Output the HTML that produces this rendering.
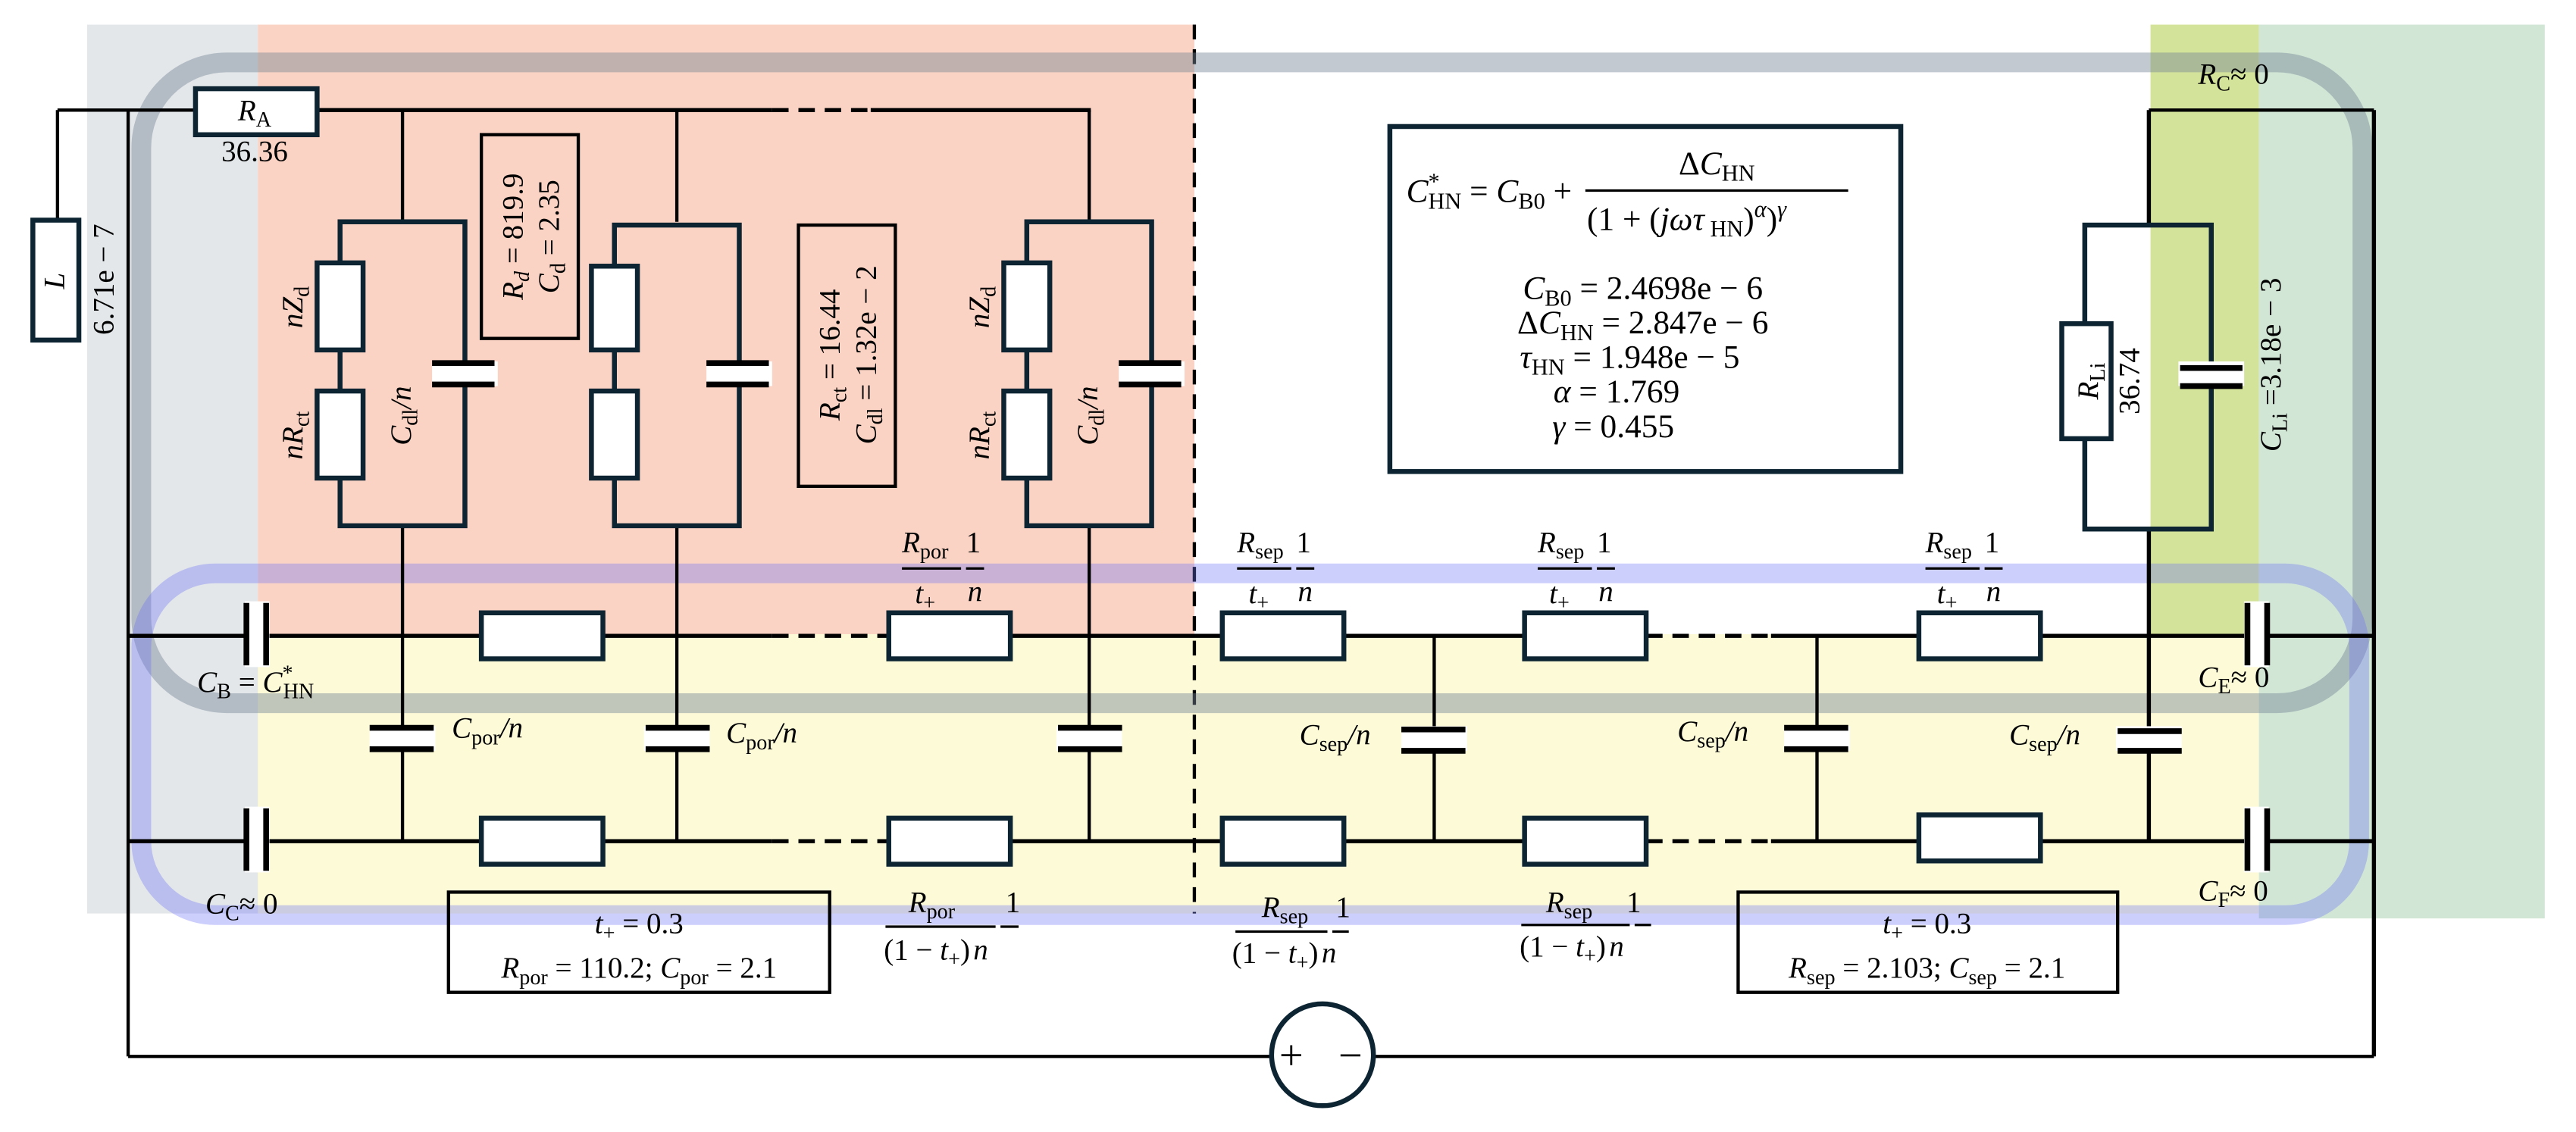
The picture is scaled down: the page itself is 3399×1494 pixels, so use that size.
<!DOCTYPE html>
<html><head><meta charset="utf-8"><style>
html,body{margin:0;padding:0;background:#fff;}
svg{display:block;}
text{font-family:"Liberation Serif",serif;fill:#000;}
.i{font-style:italic;}
</style></head><body>
<svg width="3399" height="1494" viewBox="0 0 1568 689" preserveAspectRatio="none" xmlns="http://www.w3.org/2000/svg">
<rect x="53" y="15" width="104" height="541" fill="#e3e7ea"/>
<rect x="157" y="15" width="570" height="371" fill="#fbd3c4"/>
<rect x="157" y="386" width="1218" height="170" fill="#fdfad8"/>
<rect x="1309" y="15" width="66" height="371" fill="#d3e39a"/>
<rect x="1375" y="15" width="174" height="544" fill="#d2e6d6"/>
<line x1="727" y1="15" x2="727" y2="556" stroke="#000" stroke-width="2" stroke-dasharray="9,6"/>

<rect x="86" y="38" width="1352" height="390" rx="52" fill="none" stroke="rgba(120,135,150,0.45)" stroke-width="12"/>
<rect x="86" y="349" width="1350" height="208" rx="45" fill="none" stroke="rgba(110,115,245,0.35)" stroke-width="12"/>

<g stroke="#000" stroke-width="2" fill="none">
<line x1="35" y1="67" x2="119" y2="67"/>
<line x1="193" y1="67" x2="470" y2="67" stroke-width="2.5"/>
<line x1="470" y1="67" x2="530" y2="67" stroke-width="2.5" stroke-dasharray="10,6"/>
<line x1="530" y1="67" x2="664" y2="67" stroke-width="2.5"/>
<line x1="35" y1="67" x2="35" y2="134"/>
<line x1="78" y1="67" x2="78" y2="643"/>
<line x1="1308" y1="67" x2="1445" y2="67"/>
<line x1="1445" y1="67" x2="1445" y2="643" stroke-width="2.5"/>
<line x1="1308" y1="67" x2="1308" y2="137" stroke-width="2.5"/>
<line x1="1308" y1="322" x2="1308" y2="512" stroke-width="2.5"/>
<line x1="78" y1="643" x2="1445" y2="643"/>
<line x1="245" y1="67" x2="245" y2="135"/><line x1="245" y1="320" x2="245" y2="512"/>
<line x1="412" y1="67" x2="412" y2="135"/><line x1="412" y1="320" x2="412" y2="512"/>
<line x1="663" y1="67" x2="663" y2="135"/><line x1="663" y1="320" x2="663" y2="512"/>
<line x1="873" y1="387" x2="873" y2="512"/>
<line x1="1106" y1="387" x2="1106" y2="512"/>
<line x1="78" y1="387" x2="470" y2="387" stroke-width="2.5"/>
<line x1="470" y1="387" x2="540" y2="387" stroke-width="2.5" stroke-dasharray="10,6"/>
<line x1="540" y1="387" x2="1002" y2="387" stroke-width="2.5"/>
<line x1="1002" y1="387" x2="1078" y2="387" stroke-width="2.5" stroke-dasharray="10,6"/>
<line x1="1078" y1="387" x2="1445" y2="387" stroke-width="2.5"/>
<line x1="78" y1="512" x2="470" y2="512" stroke-width="2.5"/>
<line x1="470" y1="512" x2="540" y2="512" stroke-width="2.5" stroke-dasharray="10,6"/>
<line x1="540" y1="512" x2="1002" y2="512" stroke-width="2.5"/>
<line x1="1002" y1="512" x2="1078" y2="512" stroke-width="2.5" stroke-dasharray="10,6"/>
<line x1="1078" y1="512" x2="1445" y2="512" stroke-width="2.5"/>
</g>

<g stroke="#0d2533" stroke-width="3" fill="none">
<rect x="207" y="135" width="76" height="185"/>
<rect x="374" y="137" width="76" height="183"/>
<rect x="625" y="135" width="76" height="185"/>
<rect x="1269" y="137" width="77" height="185"/>
</g>
<g stroke="#0d2533" stroke-width="3" fill="#fff">
<rect x="119" y="54" width="74" height="28"/>
<rect x="20" y="134" width="28" height="73"/>
<rect x="193" y="160" width="28" height="53"/><rect x="193" y="238" width="28" height="53"/>
<rect x="360" y="162" width="28" height="51"/><rect x="360" y="238" width="28" height="53"/>
<rect x="611" y="160" width="28" height="53"/><rect x="611" y="238" width="28" height="53"/>
<rect x="1255" y="197" width="30" height="70"/>
<rect x="293" y="373" width="74" height="28"/><rect x="541" y="373" width="74" height="28"/>
<rect x="744" y="373" width="74" height="28"/><rect x="928" y="373" width="74" height="28"/><rect x="1168" y="373" width="74" height="28"/>
<rect x="293" y="498" width="74" height="28"/><rect x="541" y="498" width="74" height="28"/>
<rect x="744" y="498" width="74" height="28"/><rect x="928" y="498" width="74" height="28"/><rect x="1168" y="496" width="74" height="28"/>
</g>

<g fill="#fff">
<rect x="263" y="220" width="40" height="15"/><rect x="430" y="220" width="40" height="15"/><rect x="681" y="220" width="40" height="15"/><rect x="1326" y="220" width="40" height="15"/>
<rect x="225" y="442" width="40" height="15"/><rect x="392" y="442" width="40" height="15"/><rect x="643" y="442" width="40" height="15"/>
<rect x="853" y="442" width="40" height="15"/><rect x="1086" y="442" width="40" height="15"/><rect x="1288" y="442" width="40" height="15"/>
<rect x="149" y="366" width="15" height="40"/><rect x="149" y="491" width="15" height="40"/>
<rect x="1366" y="366" width="15" height="40"/><rect x="1366" y="491" width="15" height="40"/>
</g>
<g stroke="#000" stroke-width="3.5">
<line x1="263" y1="221" x2="301" y2="221"/><line x1="263" y1="234" x2="301" y2="234"/>
<line x1="430" y1="221" x2="468" y2="221"/><line x1="430" y1="234" x2="468" y2="234"/>
<line x1="681" y1="221" x2="719" y2="221"/><line x1="681" y1="234" x2="719" y2="234"/>
<line x1="1327" y1="224" x2="1365" y2="224"/><line x1="1327" y1="235" x2="1365" y2="235"/>
<line x1="225" y1="443" x2="264" y2="443"/><line x1="225" y1="456" x2="264" y2="456"/>
<line x1="393" y1="443" x2="432" y2="443"/><line x1="393" y1="456" x2="432" y2="456"/>
<line x1="644" y1="443" x2="683" y2="443"/><line x1="644" y1="456" x2="683" y2="456"/>
<line x1="853" y1="444" x2="892" y2="444"/><line x1="853" y1="457" x2="892" y2="457"/>
<line x1="1086" y1="443" x2="1125" y2="443"/><line x1="1086" y1="456" x2="1125" y2="456"/>
<line x1="1289" y1="445" x2="1328" y2="445"/><line x1="1289" y1="457" x2="1328" y2="457"/>
<line x1="150" y1="367" x2="150" y2="405"/><line x1="162" y1="367" x2="162" y2="405"/>
<line x1="150" y1="492" x2="150" y2="530"/><line x1="162" y1="492" x2="162" y2="530"/>
<line x1="1368" y1="367" x2="1368" y2="405"/><line x1="1380" y1="367" x2="1380" y2="405"/>
<line x1="1368" y1="492" x2="1368" y2="530"/><line x1="1380" y1="492" x2="1380" y2="530"/>
</g>

<g stroke="#000" stroke-width="2" fill="none">
<rect x="293" y="82" width="59" height="124"/>
<rect x="486" y="137" width="59" height="159"/>
<rect x="273" y="543" width="232" height="61"/>
<rect x="1058" y="543" width="231" height="61"/>
</g>
<rect x="846" y="77" width="311" height="210" fill="#fff" stroke="#0d2533" stroke-width="3"/>

<circle cx="805" cy="642" r="31" fill="#fff" stroke="#0d2533" stroke-width="3"/>
<text x="786" y="651" font-size="26" text-anchor="middle">+</text>
<text x="822" y="651" font-size="26" text-anchor="middle">−</text>

<g font-size="18">
<text x="155" y="73" text-anchor="middle"><tspan class="i">R</tspan><tspan font-size="13" dy="4">A</tspan></text>
<text x="155" y="98" text-anchor="middle">36.36</text>
<text transform="translate(39,171) rotate(-90)" text-anchor="middle" class="i">L</text>
<text transform="translate(69,170) rotate(-90)" text-anchor="middle">6.71e − 7</text>

<text transform="translate(184,187) rotate(-90)" text-anchor="middle"><tspan class="i">nZ</tspan><tspan font-size="13" dy="4">d</tspan></text>
<text transform="translate(184,265) rotate(-90)" text-anchor="middle"><tspan class="i">nR</tspan><tspan font-size="13" dy="4">ct</tspan></text>
<text transform="translate(250,253) rotate(-90)" text-anchor="middle"><tspan class="i">C</tspan><tspan font-size="13" dy="4">dl</tspan><tspan dy="-4" class="i">/n</tspan></text>
<text transform="translate(602,187) rotate(-90)" text-anchor="middle"><tspan class="i">nZ</tspan><tspan font-size="13" dy="4">d</tspan></text>
<text transform="translate(602,265) rotate(-90)" text-anchor="middle"><tspan class="i">nR</tspan><tspan font-size="13" dy="4">ct</tspan></text>
<text transform="translate(668,253) rotate(-90)" text-anchor="middle"><tspan class="i">C</tspan><tspan font-size="13" dy="4">dl</tspan><tspan dy="-4" class="i">/n</tspan></text>

<text transform="translate(318,144) rotate(-90)" text-anchor="middle"><tspan class="i">R</tspan><tspan class="i" font-size="13" dy="4">d</tspan><tspan dy="-4"> = 819.9</tspan></text>
<text transform="translate(340,144) rotate(-90)" text-anchor="middle"><tspan class="i">C</tspan><tspan font-size="13" dy="4">d</tspan><tspan dy="-4"> = 2.35</tspan></text>
<text transform="translate(511,216) rotate(-90)" text-anchor="middle"><tspan class="i">R</tspan><tspan font-size="13" dy="4">ct</tspan><tspan dy="-4"> = 16.44</tspan></text>
<text transform="translate(533,216) rotate(-90)" text-anchor="middle"><tspan class="i">C</tspan><tspan font-size="13" dy="4">dl</tspan><tspan dy="-4"> = 1.32e − 2</tspan></text>

<text transform="translate(1277,232) rotate(-90)" text-anchor="middle"><tspan class="i">R</tspan><tspan font-size="13" dy="4">Li</tspan></text>
<text transform="translate(1302,232) rotate(-90)" text-anchor="middle">36.74</text>
<text transform="translate(1388,222) rotate(-90)" text-anchor="middle"><tspan class="i">C</tspan><tspan font-size="13" dy="4">Li</tspan><tspan dy="-4"> =3.18e − 3</tspan></text>
<text x="1338" y="51"><tspan class="i">R</tspan><tspan font-size="13" dy="4">C</tspan><tspan dy="-4">≈ 0</tspan></text>
<text x="1338" y="418"><tspan class="i">C</tspan><tspan font-size="13" dy="4">E</tspan><tspan dy="-4">≈ 0</tspan></text>
<text x="1338" y="548"><tspan class="i">C</tspan><tspan font-size="13" dy="4">F</tspan><tspan dy="-4">≈ 0</tspan></text>
<text x="120" y="421"><tspan class="i">C</tspan><tspan font-size="13" dy="4">B</tspan><tspan dy="-4"> = </tspan><tspan class="i">C</tspan><tspan font-size="13" dy="-7">*</tspan><tspan font-size="13" dx="-6" dy="11">HN</tspan></text>
<text x="125" y="556"><tspan class="i">C</tspan><tspan font-size="13" dy="4">C</tspan><tspan dy="-4">≈ 0</tspan></text>

<text x="275" y="449"><tspan class="i">C</tspan><tspan font-size="13" dy="4">por</tspan><tspan dy="-4" class="i">/n</tspan></text>
<text x="442" y="452"><tspan class="i">C</tspan><tspan font-size="13" dy="4">por</tspan><tspan dy="-4" class="i">/n</tspan></text>
<text x="791" y="453"><tspan class="i">C</tspan><tspan font-size="13" dy="4">sep</tspan><tspan dy="-4" class="i">/n</tspan></text>
<text x="1021" y="451"><tspan class="i">C</tspan><tspan font-size="13" dy="4">sep</tspan><tspan dy="-4" class="i">/n</tspan></text>
<text x="1223" y="453"><tspan class="i">C</tspan><tspan font-size="13" dy="4">sep</tspan><tspan dy="-4" class="i">/n</tspan></text>

<g>
<text x="549" y="336"><tspan class="i">R</tspan><tspan font-size="13" dy="4">por</tspan></text><text x="588" y="336">1</text>
<line x1="549" y1="346" x2="585" y2="346" stroke="#000" stroke-width="1.5"/><line x1="588" y1="346" x2="599" y2="346" stroke="#000" stroke-width="1.5"/>
<text x="557" y="367" class="i">t<tspan font-size="13" dy="4" font-style="normal">+</tspan></text><text x="589" y="366" class="i">n</text>
</g>
<g>
<text x="753" y="336"><tspan class="i">R</tspan><tspan font-size="13" dy="4">sep</tspan></text><text x="789" y="336">1</text>
<line x1="753" y1="346" x2="786" y2="346" stroke="#000" stroke-width="1.5"/><line x1="789" y1="346" x2="800" y2="346" stroke="#000" stroke-width="1.5"/>
<text x="760" y="367" class="i">t<tspan font-size="13" dy="4" font-style="normal">+</tspan></text><text x="790" y="366" class="i">n</text>
</g>
<g>
<text x="936" y="336"><tspan class="i">R</tspan><tspan font-size="13" dy="4">sep</tspan></text><text x="972" y="336">1</text>
<line x1="936" y1="346" x2="969" y2="346" stroke="#000" stroke-width="1.5"/><line x1="972" y1="346" x2="983" y2="346" stroke="#000" stroke-width="1.5"/>
<text x="943" y="367" class="i">t<tspan font-size="13" dy="4" font-style="normal">+</tspan></text><text x="973" y="366" class="i">n</text>
</g>
<g>
<text x="1172" y="336"><tspan class="i">R</tspan><tspan font-size="13" dy="4">sep</tspan></text><text x="1208" y="336">1</text>
<line x1="1172" y1="346" x2="1205" y2="346" stroke="#000" stroke-width="1.5"/><line x1="1208" y1="346" x2="1219" y2="346" stroke="#000" stroke-width="1.5"/>
<text x="1179" y="367" class="i">t<tspan font-size="13" dy="4" font-style="normal">+</tspan></text><text x="1209" y="366" class="i">n</text>
</g>
<g>
<text x="553" y="555"><tspan class="i">R</tspan><tspan font-size="13" dy="4">por</tspan></text><text x="612" y="555">1</text>
<line x1="539" y1="564" x2="606" y2="564" stroke="#000" stroke-width="1.5"/><line x1="609" y1="564" x2="620" y2="564" stroke="#000" stroke-width="1.5"/>
<text x="538" y="584">(1 − <tspan class="i">t</tspan><tspan font-size="13" dy="4">+</tspan><tspan dy="-4">)</tspan><tspan class="i" dx="2">n</tspan></text>
</g>
<g>
<text x="768" y="558"><tspan class="i">R</tspan><tspan font-size="13" dy="4">sep</tspan></text><text x="813" y="558">1</text>
<line x1="752" y1="567" x2="808" y2="567" stroke="#000" stroke-width="1.5"/><line x1="811" y1="567" x2="821" y2="567" stroke="#000" stroke-width="1.5"/>
<text x="750" y="586">(1 − <tspan class="i">t</tspan><tspan font-size="13" dy="4">+</tspan><tspan dy="-4">)</tspan><tspan class="i" dx="2">n</tspan></text>
</g>
<g>
<text x="941" y="555"><tspan class="i">R</tspan><tspan font-size="13" dy="4">sep</tspan></text><text x="990" y="555">1</text>
<line x1="926" y1="563" x2="992" y2="563" stroke="#000" stroke-width="1.5"/><line x1="995" y1="563" x2="1005" y2="563" stroke="#000" stroke-width="1.5"/>
<text x="925" y="582">(1 − <tspan class="i">t</tspan><tspan font-size="13" dy="4">+</tspan><tspan dy="-4">)</tspan><tspan class="i" dx="2">n</tspan></text>
</g>

<text x="389" y="568" text-anchor="middle"><tspan class="i">t</tspan><tspan font-size="13" dy="4">+</tspan><tspan dy="-4"> = 0.3</tspan></text>
<text x="389" y="595" text-anchor="middle"><tspan class="i">R</tspan><tspan font-size="13" dy="4">por</tspan><tspan dy="-4"> = 110.2; </tspan><tspan class="i">C</tspan><tspan font-size="13" dy="4">por</tspan><tspan dy="-4"> = 2.1</tspan></text>
<text x="1173" y="568" text-anchor="middle"><tspan class="i">t</tspan><tspan font-size="13" dy="4">+</tspan><tspan dy="-4"> = 0.3</tspan></text>
<text x="1173" y="595" text-anchor="middle"><tspan class="i">R</tspan><tspan font-size="13" dy="4">sep</tspan><tspan dy="-4"> = 2.103; </tspan><tspan class="i">C</tspan><tspan font-size="13" dy="4">sep</tspan><tspan dy="-4"> = 2.1</tspan></text>
</g>

<g font-size="20">
<text x="856" y="123"><tspan class="i">C</tspan><tspan font-size="14" dy="-8">*</tspan><tspan font-size="14" dx="-7" dy="12">HN</tspan><tspan dy="-4"> = </tspan><tspan class="i">C</tspan><tspan font-size="14" dy="4">B0</tspan><tspan dy="-4">  +</tspan></text>
<text x="1045" y="106" text-anchor="middle">Δ<tspan class="i">C</tspan><tspan font-size="14" dy="4">HN</tspan></text>
<line x1="965" y1="116" x2="1125" y2="116" stroke="#000" stroke-width="1.5"/>
<text x="966" y="140">(1 + (<tspan class="i">jωτ</tspan><tspan font-size="14" dy="4"> HN</tspan><tspan dy="-4">)</tspan><tspan class="i" font-size="14" dy="-8">α</tspan><tspan dy="8">)</tspan><tspan class="i" font-size="14" dy="-8">γ</tspan></text>
<text x="1000" y="182" text-anchor="middle"><tspan class="i">C</tspan><tspan font-size="14" dy="4">B0</tspan><tspan dy="-4"> = 2.4698e − 6</tspan></text>
<text x="1000" y="203" text-anchor="middle">Δ<tspan class="i">C</tspan><tspan font-size="14" dy="4">HN</tspan><tspan dy="-4"> = 2.847e − 6</tspan></text>
<text x="992" y="224" text-anchor="middle"><tspan class="i">τ</tspan><tspan font-size="14" dy="4">HN</tspan><tspan dy="-4"> = 1.948e − 5</tspan></text>
<text x="984" y="245" text-anchor="middle"><tspan class="i">α</tspan> = 1.769</text>
<text x="982" y="266" text-anchor="middle"><tspan class="i">γ</tspan> = 0.455</text>
</g>
</svg>
</body></html>
